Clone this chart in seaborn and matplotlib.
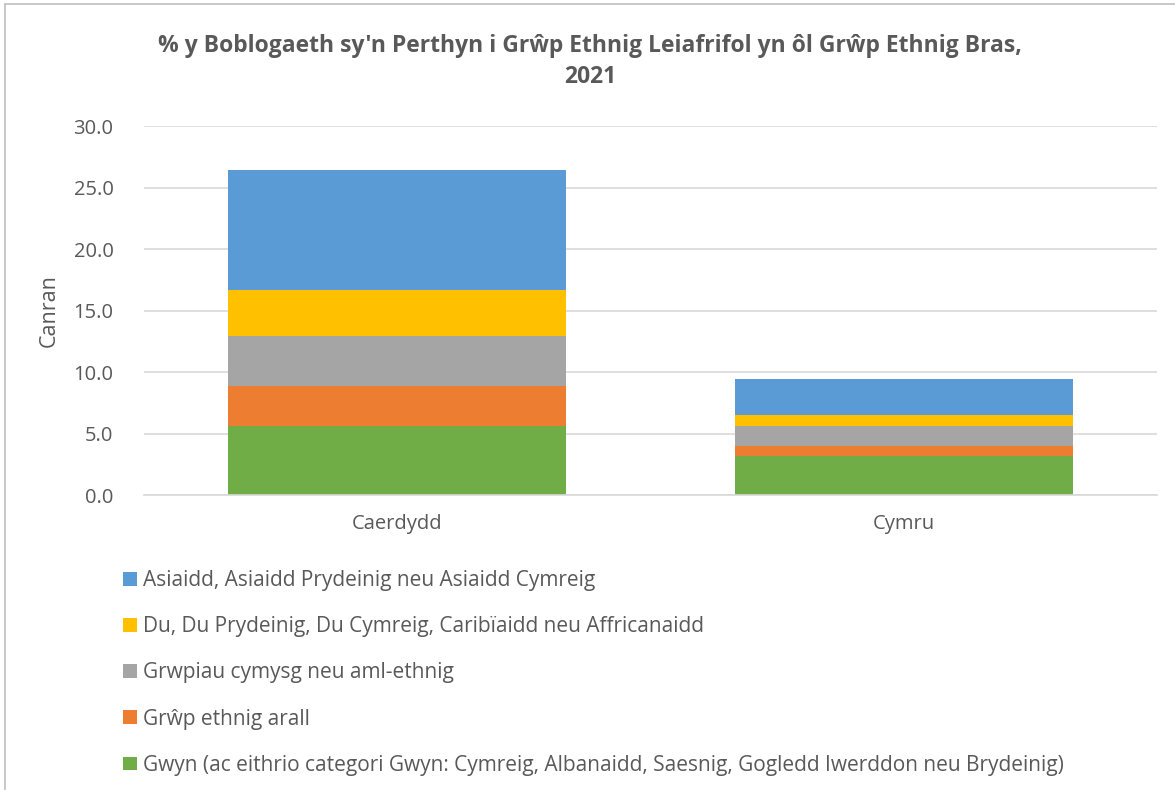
import numpy as np
import pandas as pd
import matplotlib
matplotlib.use("Agg")
import matplotlib.pyplot as plt
import seaborn as sns
from matplotlib.patches import Patch
from matplotlib.lines import Line2D

# Data
areas = ["Caerdydd", "Cymru"]
series = [
    "Gwyn (ac eithrio categori Gwyn: Cymreig, Albanaidd, Saesnig, Gogledd Iwerddon neu Brydeinig)",
    "Grŵp ethnig arall",
    "Grwpiau cymysg neu aml-ethnig",
    "Du, Du Prydeinig, Du Cymreig, Caribïaidd neu Affricanaidd",
    "Asiaidd, Asiaidd Prydeinig neu Asiaidd Cymreig",
]
gwyn = [5.6, 3.2]
arall = [3.3, 0.8]
cymysg = [4.0, 1.6]
du = [3.8, 0.9]
asiaidd = [9.7, 2.9]
colours = ["#70AD47", "#ED7D31", "#A5A5A5", "#FFC000", "#5B9BD5"]

TXT = "#595959"

sns.set_theme(style="white")
plt.rcParams["font.family"] = ["Open Sans", "DejaVu Sans"]

values = np.array([gwyn, arall, cymysg, du, asiaidd])
cum = np.cumsum(values, axis=0)

fig = plt.figure(figsize=(11.75, 7.9), dpi=100)
ax = fig.add_axes([0.1226, 0.3734, 0.8621, 0.4671])

# draw from the top of the stack down so each segment covers the one above
for i in range(len(series) - 1, -1, -1):
    df = pd.DataFrame({"area": areas, "total": cum[i]})
    sns.barplot(data=df, x="area", y="total", color=colours[i], width=0.667,
                saturation=1, ax=ax, zorder=2, linewidth=0)

ax.set_xlim(-0.5, 1.5)
ax.set_ylim(0, 30)
ax.set_yticks(np.arange(0, 30.1, 5))
ax.set_yticklabels([f"{v:.1f}" for v in np.arange(0, 30.1, 5)])
ax.yaxis.grid(True, color="#D9D9D9", linewidth=1.2, zorder=0)
ax.set_axisbelow(True)
for s in ["top", "right", "left"]:
    ax.spines[s].set_visible(False)
ax.spines["bottom"].set_color("#D9D9D9")
ax.spines["bottom"].set_linewidth(1.2)
ax.tick_params(axis="both", length=0, labelsize=14.5, colors=TXT)
ax.tick_params(axis="y", pad=22)
ax.tick_params(axis="x", pad=14)
ax.set_xlabel("")
ax.set_ylabel("Canran", fontsize=15.5, color=TXT, labelpad=10)

fig.text(0.502, 0.922, "% y Boblogaeth sy'n Perthyn i Grŵp Ethnig Leiafrifol yn ôl Grŵp Ethnig Bras,\n2021",
         ha="center", va="center", fontsize=16.5, fontweight="bold", color=TXT,
         linespacing=1.35)

handles = [Patch(facecolor=colours[i], edgecolor="none") for i in range(len(series) - 1, -1, -1)]
labels = [series[i] for i in range(len(series) - 1, -1, -1)]
fig.legend(handles, labels, loc="upper left", bbox_to_anchor=(0.098, 0.289),
           frameon=False, fontsize=15, labelcolor=TXT, handlelength=0.65,
           handleheight=0.65, handletextpad=0.3, labelspacing=1.21,
           borderaxespad=0)

# chart-area border (left and top edges visible)
fig.add_artist(Line2D([5 / 1175, 5 / 1175], [0, 1 - 4 / 790], color="#BFBFBF", lw=1.2))
fig.add_artist(Line2D([5 / 1175, 1], [1 - 4 / 790, 1 - 4 / 790], color="#BFBFBF", lw=1.2))

fig.savefig("out.png", dpi=100)
